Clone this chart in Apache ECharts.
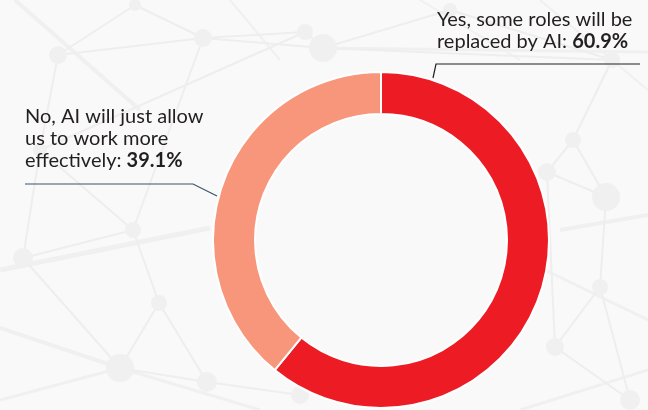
<!DOCTYPE html>
<html>
<head>
<meta charset="utf-8">
<script src="https://cdn.jsdelivr.net/npm/echarts@6/dist/echarts.min.js"></script>
<style>
  html, body { margin: 0; padding: 0; background: #f9f9f9; }
  #chart { width: 648px; height: 410px; }
</style>
</head>
<body>
<div id="chart"></div>
<script>
// Survey answers and their shares (percent)
const categories = [
  'Yes, some roles will be\nreplaced by AI: ',
  'No, AI will just allow\nus to work more\neffectively: '
];
const values = [60.9, 39.1];
const colors = ['#ED1C24', '#F7967A'];

// Faint network pattern drawn behind the donut
const netNodes = [
  [58, 55, 9], [203, 38, 9], [305, 32, 8], [323, 48, 14], [135, 5, 6],
  [23, 258, 10], [133, 230, 8], [159, 303, 8], [120, 368, 14], [207, 382, 10],
  [573, 140, 8], [547, 172, 9], [606, 197, 14], [600, 287, 8], [555, 347, 9],
  [450, 10, 7], [612, 60, 8], [40, 150, 7], [300, 395, 9], [630, 400, 10]
];
const netEdges = [
  [0, 1], [1, 2], [2, 3], [0, 17], [0, 4], [1, 4], [1, 3], [3, 15], [15, 16],
  [5, 6], [6, 7], [7, 8], [8, 9], [5, 17], [17, 6], [6, 1], [5, 8], [7, 9],
  [10, 11], [10, 12], [11, 12], [12, 13], [13, 14], [11, 14], [16, 10], [14, 19],
  [9, 18], [13, 19], [3, 16], [2, 17]
];
const netLines = [
  [0, 270, 210, 228, 5], [0, 328, 120, 368, 4], [15, 0, 140, 110, 4],
  [323, 48, 648, 52, 3], [560, 230, 648, 215, 4], [545, 270, 648, 320, 3],
  [0, 400, 120, 368, 3], [120, 368, 260, 410, 3], [520, 410, 648, 370, 3],
  [540, 0, 648, 90, 2], [420, 0, 520, 60, 2], [230, 0, 280, 60, 2]
];

const bgGraphics = [];
netLines.forEach(function (l) {
  bgGraphics.push({ type: 'line', silent: true, z: -10,
    shape: { x1: l[0], y1: l[1], x2: l[2], y2: l[3] },
    style: { stroke: '#f0f0f0', lineWidth: l[4] } });
});
netEdges.forEach(function (e) {
  const a = netNodes[e[0]], b = netNodes[e[1]];
  bgGraphics.push({ type: 'line', silent: true, z: -10,
    shape: { x1: a[0], y1: a[1], x2: b[0], y2: b[1] },
    style: { stroke: '#eeeeee', lineWidth: 2 } });
});
netNodes.forEach(function (n) {
  bgGraphics.push({ type: 'circle', silent: true, z: -9,
    shape: { cx: n[0], cy: n[1], r: n[2] },
    style: { fill: '#f0f0f0' } });
});

// Donut geometry
const CX = 381, CY = 240, R_IN = 126, R_OUT = 168;

// Callout placement for each slice: text anchor and leader line
const callouts = [
  { x: 437, y: 9, line: [[433, 78], [436, 64], [640, 64]], stroke: '#231f20' },
  { x: 25, y: 106, line: [[217, 196], [193, 184], [25, 184]], stroke: '#3b5366' }
];

const chart = echarts.init(document.getElementById('chart'));
chart.setOption({
  backgroundColor: '#f9f9f9',
  animation: false,
  graphic: bgGraphics,
  series: [{
    type: 'pie',
    center: [CX, CY],
    radius: [R_IN, R_OUT],
    startAngle: 90,
    clockwise: true,
    silent: true,
    data: categories.map(function (name, i) {
      return {
        name: name,
        value: values[i],
        itemStyle: { color: colors[i] },
        labelLine: { lineStyle: { color: callouts[i].stroke, width: 1.2 } }
      };
    }),
    itemStyle: { borderColor: '#ffffff', borderWidth: 2 },
    label: {
      show: true,
      position: 'outside',
      overflow: 'none',
      formatter: function (p) {
        return p.name.split('\n').map(function (s, k, arr) {
          return '{n|' + s + '}' + (k === arr.length - 1 ? '{b|' + p.value.toFixed(1) + '%}' : '');
        }).join('\n');
      },
      rich: {
        n: { fontFamily: 'Lato', fontSize: 20, color: '#231f20', lineHeight: 22 },
        b: { fontFamily: 'Lato', fontSize: 20, fontWeight: 'bold', color: '#231f20', lineHeight: 22 }
      }
    },
    labelLine: { show: true, length: 10, length2: 10 },
    labelLayout: function (params) {
      const c = callouts[params.dataIndex];
      return {
        x: c.x, y: c.y,
        align: 'left', verticalAlign: 'top',
        labelLinePoints: c.line
      };
    }
  }]
});
</script>
</body>
</html>
